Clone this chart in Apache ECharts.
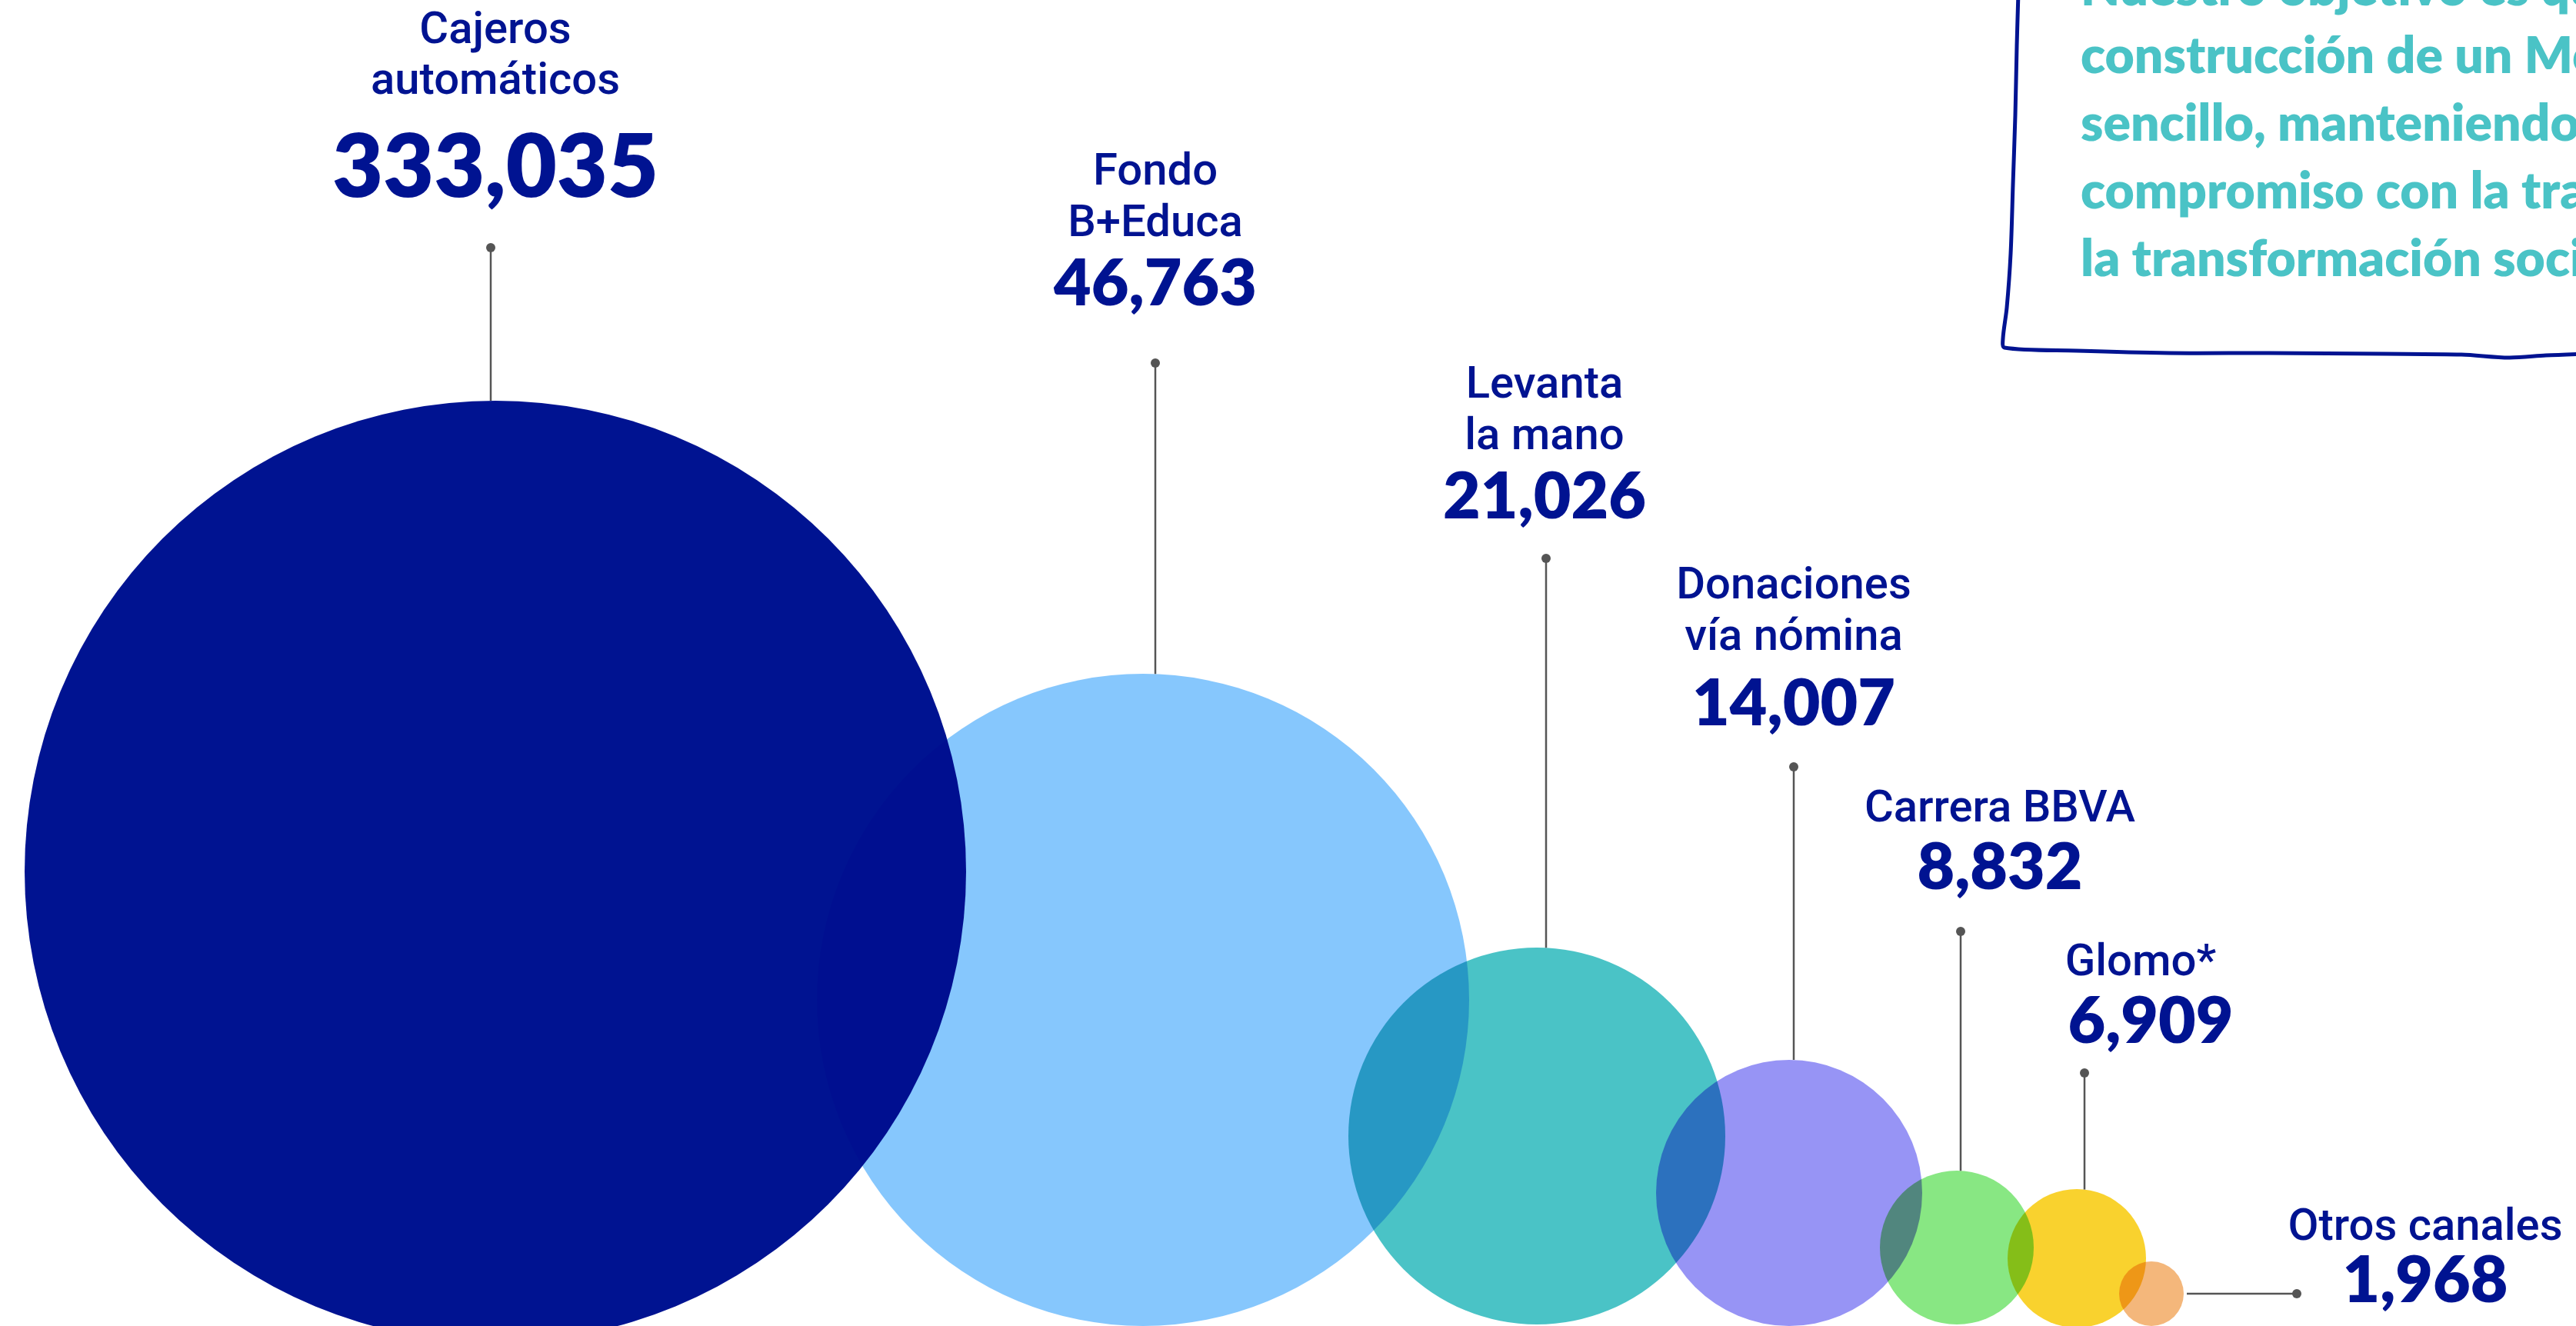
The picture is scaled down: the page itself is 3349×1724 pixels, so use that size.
<!DOCTYPE html>
<html>
<head>
<meta charset="utf-8">
<script src="https://cdn.jsdelivr.net/npm/echarts@6/dist/echarts.min.js"></script>
<style>
  html, body { margin: 0; padding: 0; background: #ffffff; overflow: hidden; }
  #chart { width: 3349px; height: 1724px; }
</style>
</head>
<body>
<div id="chart"></div>
<script>
// ---------------- DATA ----------------
const categories = [
  'Cajeros\nautomáticos',
  'Fondo\nB+Educa',
  'Levanta\nla mano',
  'Donaciones\nvía nómina',
  'Carrera BBVA',
  'Glomo*',
  'Otros canales'
];
const values = [333035, 46763, 21026, 14007, 8832, 6909, 1968];
const noteLines = [
  'Nuestro objetivo es que',
  'construcción de un Modelo',
  'sencillo, manteniendo',
  'compromiso con la transparencia',
  'la transformación social'
];

// ---------------- STYLE / LAYOUT ----------------
const W = 3349, H = 1724;
const NAVY = '#001391';
const TEAL = '#4AC3C6';
const colors = ['#001391', '#86C7FD', '#4AC3C6', '#9794F5', '#88E783', '#F9D22E', '#F4B77B'];
const NUM_FONT = 'Lato, "Open Sans", sans-serif';
const NAME_FONT = 'Roboto, Lato, sans-serif';
const NAME_SIZE = 58;
const TOP_K = 0.83; // baseline -> top-of-box offset factor

// bubble layout (infographic placement, in canvas units)
const layout = [
  { x: 644,  r: 612, bottom: 1745, lineX: 638,  dotY: 322,  labelX: 644,  nameBase: [61, 127],  numBase: 257, numSize: 114 },
  { x: 1486, r: 424, bottom: 1724, lineX: 1502, dotY: 472,  labelX: 1502, nameBase: [245, 312], numBase: 398 },
  { x: 1998, r: 245, bottom: 1722, lineX: 2010, dotY: 726,  labelX: 2008, nameBase: [522, 589], numBase: 675 },
  { x: 2326, r: 173, bottom: 1724, lineX: 2332, dotY: 997,  labelX: 2332, nameBase: [783, 850], numBase: 944 },
  { x: 2544, r: 100, bottom: 1722, lineX: 2549, dotY: 1211, labelX: 2600, nameBase: [1073],     numBase: 1157 },
  { x: 2700, r: 90,  bottom: 1726, lineX: 2710, dotY: 1395, labelX: 2783, numX: 2796, nameBase: [1273], numBase: 1357 },
  { x: 2797, r: 42,  bottom: 1724, horizontal: true, lineX: 2843, dotX: 2986, labelX: 3153, nameBase: [1617], numBase: 1694 }
];

const fmt = v => v.toLocaleString('en-US');

const chart = echarts.init(document.getElementById('chart'), null, { renderer: 'canvas', width: W, height: H });

function bubbleItem(params, api) {
  const i = api.value(0);
  const L = layout[i];
  const c = api.coord([L.x, L.bottom - L.r]);
  const r = api.size([L.r, 0])[0];
  return {
    type: 'circle',
    shape: { cx: c[0], cy: c[1], r: r },
    style: { fill: colors[i] }
  };
}

function labelItem(params, api) {
  const i = api.value(0);
  const L = layout[i];
  const children = [];
  const cy = L.bottom - L.r;
  if (L.horizontal) {
    const p1 = api.coord([L.lineX, cy]);
    const p2 = api.coord([L.dotX, cy]);
    children.push({ type: 'line', shape: { x1: p1[0], y1: p1[1], x2: p2[0], y2: p2[1] }, style: { stroke: '#555555', lineWidth: 2.5 } });
    children.push({ type: 'circle', shape: { cx: p2[0], cy: p2[1], r: 6 }, style: { fill: '#555555' } });
  } else {
    const dx = L.lineX - L.x;
    const edgeY = cy - Math.sqrt(L.r * L.r - dx * dx);
    const p1 = api.coord([L.lineX, L.dotY]);
    const p2 = api.coord([L.lineX, edgeY]);
    children.push({ type: 'line', shape: { x1: p1[0], y1: p1[1], x2: p2[0], y2: p2[1] }, style: { stroke: '#555555', lineWidth: 2.5 } });
    children.push({ type: 'circle', shape: { cx: p1[0], cy: p1[1], r: 6 }, style: { fill: '#555555' } });
  }
  const nameLines = categories[i].split('\n');
  nameLines.forEach((t, k) => {
    const p = api.coord([L.labelX, L.nameBase[k] - TOP_K * NAME_SIZE]);
    children.push({
      type: 'text',
      style: { text: t, x: p[0], y: p[1], align: 'center', verticalAlign: 'top',
        fill: NAVY, font: '500 ' + NAME_SIZE + 'px ' + NAME_FONT }
    });
  });
  const ns = L.numSize || 84;
  const pn = api.coord([L.numX || L.labelX, L.numBase - TOP_K * ns]);
  children.push({
    type: 'text',
    style: { text: fmt(values[i]), x: pn[0], y: pn[1], align: 'center', verticalAlign: 'top',
      fill: NAVY, font: '800 ' + ns + 'px ' + NUM_FONT }
  });
  return { type: 'group', children: children };
}

const seriesData = values.map((v, i) => [i, v]);

// hand-drawn note box (decoration)
const boxPath = [
  [2624, -10], [2622, 60], [2620, 150], [2617, 240], [2614, 330], [2609, 400], [2604, 440], [2606, 452],
  [2700, 456], [2820, 459], [2950, 459], [3100, 460], [3200, 461], [3262, 465], [3310, 462], [3360, 460]
];
const NOTE_SIZE = 66;

const option = {
  animation: false,
  backgroundColor: '#ffffff',
  grid: { left: 0, right: 0, top: 0, bottom: 0 },
  xAxis: { type: 'value', min: 0, max: W, show: false },
  yAxis: { type: 'value', min: 0, max: H, inverse: true, show: false },
  graphic: [
    { type: 'polyline', shape: { points: boxPath, smooth: 0.3 }, style: { stroke: NAVY, lineWidth: 5, fill: null }, z: 10 }
  ].concat(noteLines.map((t, k) => ({
    type: 'text', x: 2705, y: 7 + k * 88 - TOP_K * NOTE_SIZE, z: 10,
    style: { text: t, fill: TEAL, font: '800 ' + NOTE_SIZE + 'px ' + NUM_FONT, verticalAlign: 'top', align: 'left' }
  }))),
  series: [
    {
      type: 'custom', name: 'bubbles', blendMode: 'multiply',
      data: seriesData, renderItem: bubbleItem, z: 2
    },
    {
      type: 'custom', name: 'labels',
      data: seriesData, renderItem: labelItem, z: 3
    }
  ]
};
chart.setOption(option);
</script>
</body>
</html>
